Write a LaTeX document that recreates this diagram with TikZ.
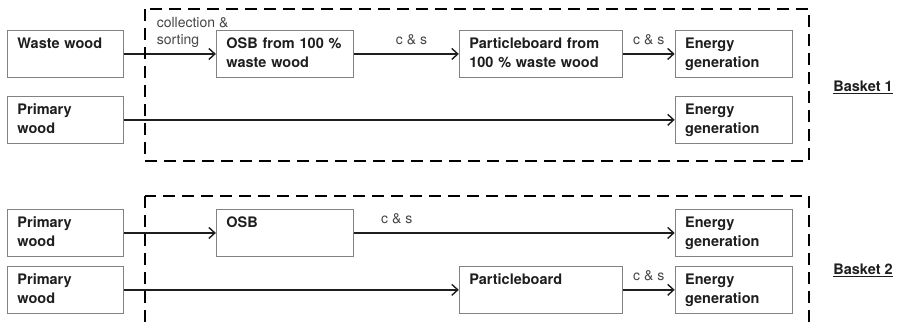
\documentclass[tikz,border=0pt]{standalone}
\usepackage{fontspec}
\setmainfont{TeX Gyre Heros}
\definecolor{boxgray}{RGB}{130, 130, 130}
\definecolor{inkgray}{RGB}{30, 30, 30}
\definecolor{labelgray}{RGB}{70, 70, 70}
\usetikzlibrary{
  arrows.meta,
  positioning,
}
\tikzset{
  >={Straight Barb[length=6pt,width=11pt]},
  box/.style={draw=boxgray,line width=0.9pt,rectangle,text width=#1,
    inner xsep=10pt,inner ysep=4pt,text height=14.5pt,text depth=24.5pt,
    align=left,font=\fontsize{14.5}{19}\selectfont\bfseries,text=inkgray},
  flow/.style={->,draw=inkgray,line width=1.4pt},
  cs/.style={anchor=base,yshift=9pt,inner sep=0pt,
    font=\fontsize{14}{17}\selectfont,text=labelgray},
  basket/.style={draw=black,line width=2.4pt,dash pattern=on 12pt off 7pt},
  baskettext/.style={font=\fontsize{14.5}{17}\selectfont\bfseries,text=inkgray},
}

\begin{document}
\begin{tikzpicture}[x=1pt,y=-1pt,node distance=0mm and 0mm]
    \clip (0,0) rectangle (897,327);
    \useasboundingbox (0,0) rectangle (897,327);

    % basket 1
    \node[box=96pt,anchor=north west]   (a0) at (7,30)          {Waste wood};
    \node[box=117pt]  (a1) [right=92pt of a0]   {OSB from 100 \%\\waste wood};
    \node[box=143pt]  (a2) [right=105pt of a1]  {Particleboard from\\100 \% waste wood};
    \node[box=97pt]   (a3) [right=52pt of a2]   {Energy\\generation};
    \node[box=96pt]   (a4) [below=18pt of a0]   {Primary\\wood};
    \node[box=97pt]   (a5) [below=18pt of a3]   {Energy\\generation};

    \draw[flow] (a0) -- node[cs,anchor=south west,pos=0.35,yshift=-3pt,align=left] {collection \&\\sorting} (a1);
    \draw[flow] (a1) -- node[cs,pos=0.55] {c \& s} (a2);
    \draw[flow] (a2) -- node[cs] {c \& s} (a3);
    \draw[flow] (a4) -- (a5);

    \draw[basket] (145,9) rectangle (809,161);
    \node[baskettext] (k1) at (863,87) {\underline{Basket 1}};

    % basket 2
    \node[box=96pt,anchor=north west]   (b0) at (7,209)         {Primary\\wood};
    \node[box=117pt]  (b1) [right=92pt of b0]   {OSB};
    \node[box=96pt]   (b2) [below=9pt of b0]    {Primary\\wood};
    \node[box=143pt]  (b3) at (a2 |- b2)        {Particleboard};
    \node[box=97pt]   (b4) at (a3 |- b0)        {Energy\\generation};
    \node[box=97pt]   (b5) at (a3 |- b2)        {Energy\\generation};

    \draw[flow] (b0) -- (b1);
    \draw[flow] (b1) -- node[cs,pos=0.134] {c \& s} (b4);
    \draw[flow] (b2) -- (b3);
    \draw[flow] (b3) -- node[cs] {c \& s} (b5);

    \draw[basket] (145,196) rectangle (809,345);
    \node[baskettext] (k2) at (863,270) {\underline{Basket 2}};
\end{tikzpicture}
\end{document}
